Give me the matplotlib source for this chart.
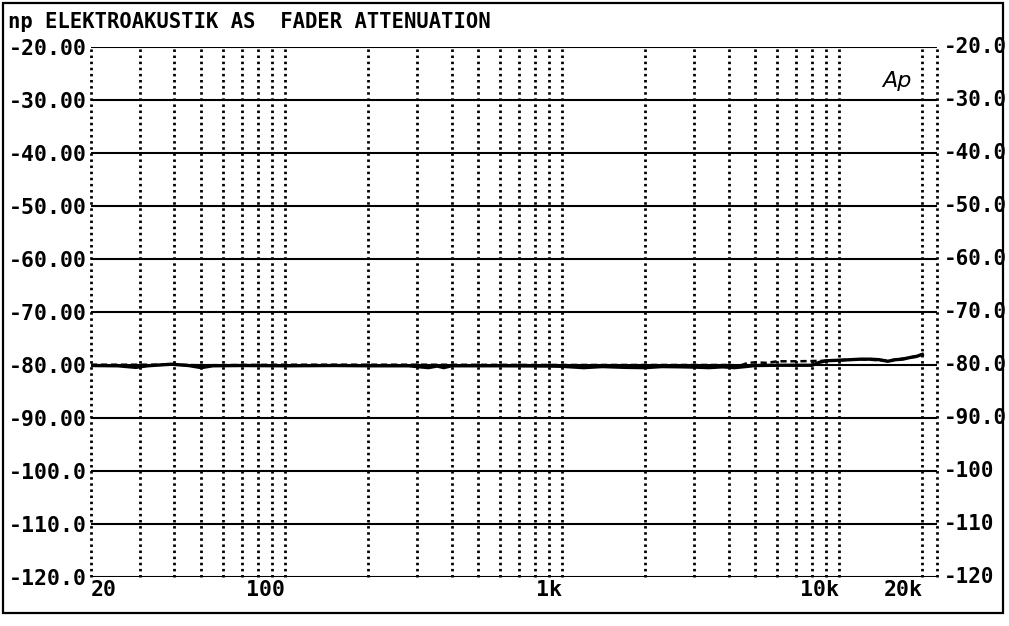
import matplotlib.pyplot as plt
import matplotlib.patches as patches

freq_solid = [20, 25, 29, 32, 39, 45, 50, 55, 70, 100, 150, 200, 280, 330, 355,
              375, 400, 600, 900, 1000, 1200, 1400, 1700, 2000, 2300, 2700, 3000,
              3400, 3800, 4200, 4600, 5000, 6000, 7000, 8000, 8500, 9000, 10000,
              11000, 12000, 13000, 14000, 15000, 16000, 17000, 18000, 19000, 20000]
level_solid = [-80.1, -80.15, -80.45, -80.15, -79.85, -80.1, -80.5, -80.15, -80.1,
               -80.15, -80.1, -80.15, -80.15, -80.5, -80.2, -80.5, -80.15, -80.15,
               -80.2, -80.25, -80.5, -80.3, -80.45, -80.5, -80.3, -80.35, -80.4,
               -80.5, -80.35, -80.5, -80.3, -80.1, -80.05, -80.05, -80.05, -79.5,
               -79.2, -79.1, -79.0, -78.9, -78.9, -79.0, -79.3, -79.0, -78.9, -78.6,
               -78.4, -78.0]

freq_dash = [20, 40, 50, 100, 300, 1000, 2000, 3000, 4000, 4400, 4700, 5000, 5500,
             6000, 7000, 8000, 9000, 10000, 12000, 15000, 18000, 20000]
level_dash = [-79.95, -79.95, -80.05, -79.95, -79.95, -80.0, -80.0, -80.0, -80.0,
              -80.1, -79.6, -79.5, -79.6, -79.3, -79.3, -79.25, -79.2, -79.1, -78.9,
              -79.2, -78.6, -78.0]

y_ticks = [-20, -30, -40, -50, -60, -70, -80, -90, -100, -110, -120]
y_left_labels = ["-20.00", "-30.00", "-40.00", "-50.00", "-60.00", "-70.00",
                 "-80.00", "-90.00", "-100.0", "-110.0", "-120.0"]
# the right column is cut by the frame in the original
y_right_labels = ["-20.0", "-30.0", "-40.0", "-50.0", "-60.0", "-70.0",
                  "-80.0", "-90.0", "-100", "-110", "-120"]
x_ticks = [20, 100, 1000, 10000, 20000]
x_labels = ["20", "100", "1k", "10k", "20k"]
x_grid = [20, 30, 40, 50, 60, 70, 80, 90, 100, 200, 300, 400, 500, 600, 700, 800,
          900, 1000, 2000, 3000, 4000, 5000, 6000, 7000, 8000, 9000, 10000, 20000]
x_max = 22600

mono = "DejaVu Sans Mono"

fig = plt.figure(figsize=(10.09, 6.26), dpi=100)
ax = fig.add_axes([91 / 1009, 1 - 577 / 626, 846 / 1009, 530 / 626])

ax.set_xscale("log")
ax.set_xlim(20, x_max)
ax.set_ylim(-120, -20)

for s in ax.spines.values():
    s.set_visible(False)

for y in y_ticks:
    ax.axhline(y, color="black", lw=1.5, zorder=1)
for x in x_grid + [x_max]:
    ax.axvline(x, color="black", lw=2.0, ls=(0, (0.9, 1.3)), zorder=1,
               clip_on=False)

ax.plot(freq_dash, level_dash, color="black", lw=1.8, ls=(0, (2.5, 1.5)), zorder=3)
ax.plot(freq_solid, level_solid, color="black", lw=2.4, zorder=4)

ax.set_yticks(y_ticks, y_left_labels)
ax.set_xticks(x_ticks, x_labels)
ax.minorticks_off()
ax.tick_params(length=0, labelsize=15.5, pad=3)
ax.tick_params(axis="x", pad=2)
for lab in ax.get_yticklabels() + ax.get_xticklabels():
    lab.set_family(mono)
    lab.set_weight("bold")
for lab in ax.get_xticklabels():
    lab.set_ha("right" if lab.get_text() != "20" else "left")

border = patches.Rectangle((3 / 1009, 1 - 613 / 626), 1000 / 1009, 610 / 626,
                           transform=fig.transFigure, fill=False, ec="black", lw=1.6)
fig.add_artist(border)

for y, lab in zip(y_ticks, y_right_labels):
    ax.text(1.008, y, lab, transform=ax.get_yaxis_transform(), ha="left",
            va="center", fontsize=15, family=mono, weight="bold")

fig.text(8 / 1009, 1 - 22 / 626, "np ELEKTROAKUSTIK AS  FADER ATTENUATION",
         ha="left", va="center", fontsize=14.8, family=mono, weight="bold")
ax.text(0.97, 0.935, "Ap", transform=ax.transAxes, ha="right", va="center",
        fontsize=16, style="italic", family="DejaVu Sans")

fig.savefig("out.png", dpi=100)
